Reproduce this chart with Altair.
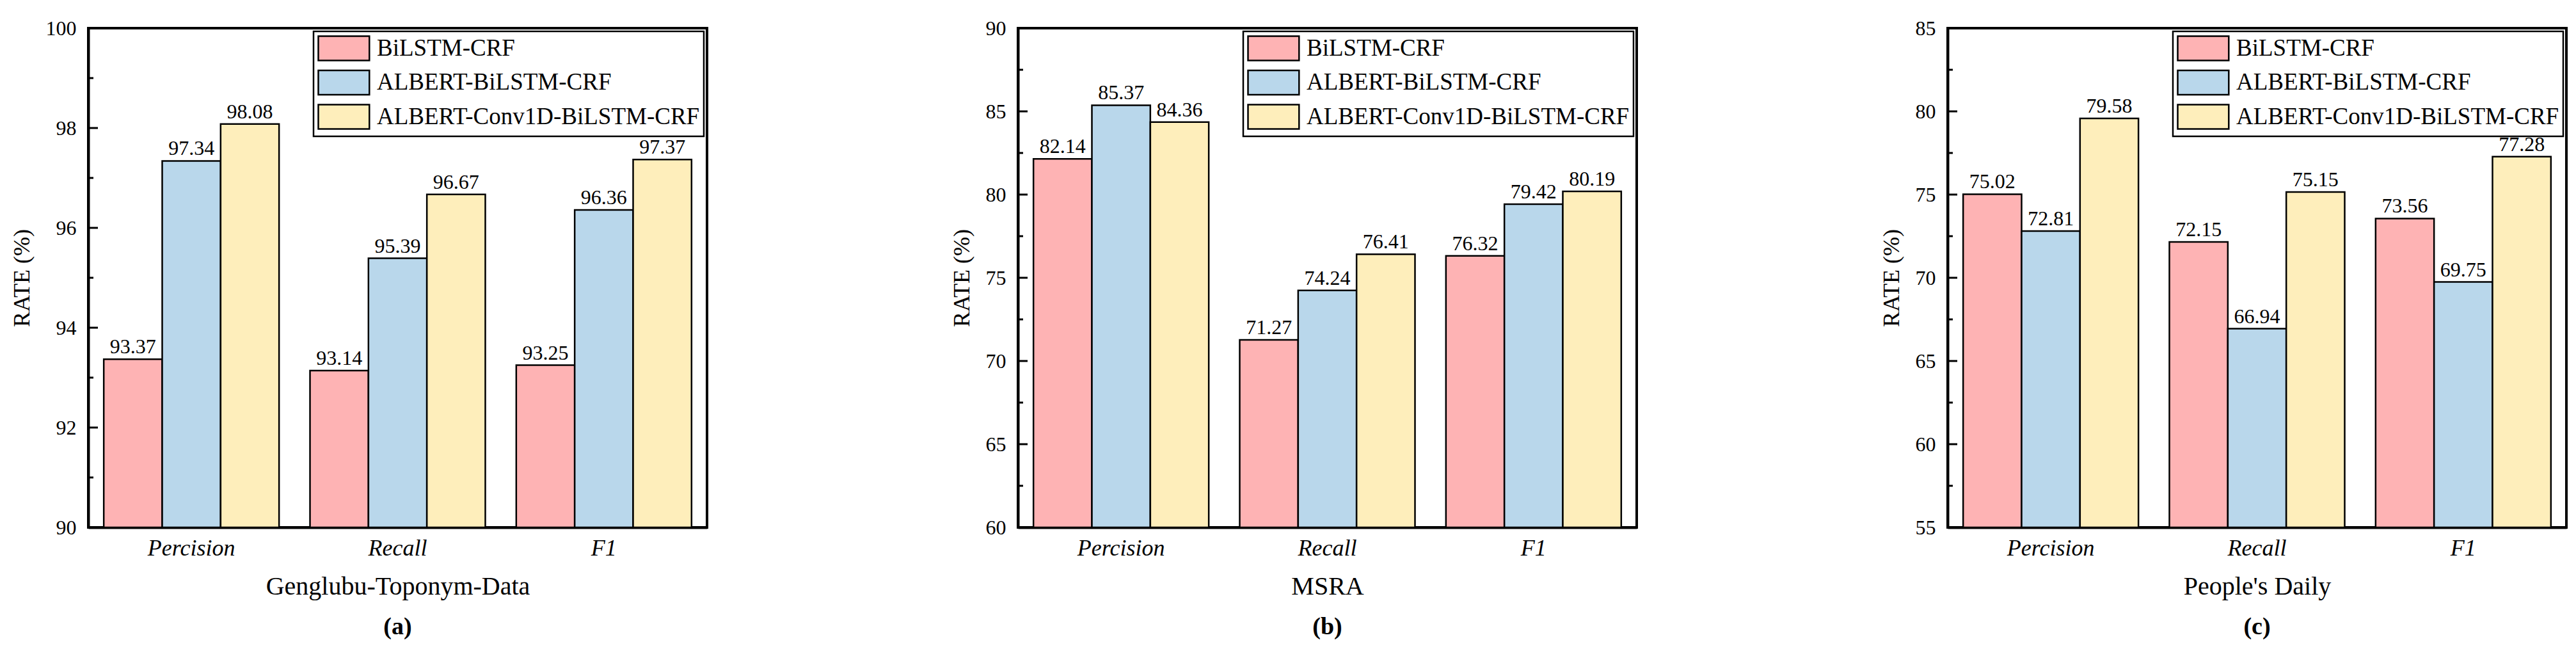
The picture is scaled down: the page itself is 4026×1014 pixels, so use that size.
import altair as alt
import pandas as pd

FONT = "Liberation Serif"

categories = ["Percision", "Recall", "F1"]
models = ["BiLSTM-CRF", "ALBERT-BiLSTM-CRF", "ALBERT-Conv1D-BiLSTM-CRF"]
colors = ["#FEB3B4", "#B9D7EB", "#FEEEBB"]

# Panel (a) Genglubu-Toponym-Data
a_bilstm = [93.37, 93.14, 93.25]
a_albert = [97.34, 95.39, 96.36]
a_conv = [98.08, 96.67, 97.37]
a_major = [90, 92, 94, 96, 98, 100]
a_minor = [91, 93, 95, 97, 99]

# Panel (b) MSRA
b_bilstm = [82.14, 71.27, 76.32]
b_albert = [85.37, 74.24, 79.42]
b_conv = [84.36, 76.41, 80.19]
b_major = [60, 65, 70, 75, 80, 85, 90]
b_minor = [62.5, 67.5, 72.5, 77.5, 82.5, 87.5]

# Panel (c) People's Daily
c_bilstm = [75.02, 72.15, 73.56]
c_albert = [72.81, 66.94, 69.75]
c_conv = [79.58, 75.15, 77.28]
c_major = [55, 60, 65, 70, 75, 80, 85]
c_minor = [57.5, 62.5, 67.5, 72.5, 77.5, 82.5]


def make_df(series):
    rows = []
    for m, vals in zip(models, series):
        for c, v in zip(categories, vals):
            rows.append({"metric": c, "model": m, "value": v})
    return pd.DataFrame(rows)


def panel(series, major, minor, xtitle, label):
    df = make_df(series)
    lo, hi = major[0], major[-1]
    yscale = alt.Scale(domain=[lo, hi], nice=False, zero=False)
    yaxis = alt.Axis(
        title="RATE (%)",
        values=major,
        ticks=False,
        tickSize=0,
        grid=False,
        labelPadding=19,
        labelFont=FONT,
        labelFontSize=32,
        labelColor="black",
        titleFont=FONT,
        titleFontSize=36,
        titleFontWeight="normal",
        titleColor="black",
        titlePadding=18,
        domainColor="black",
        domainWidth=4,
    )
    xenc = alt.X(
        "metric:N",
        sort=categories,
        scale=alt.Scale(paddingInner=0.15, paddingOuter=0.075),
        axis=alt.Axis(
            title=xtitle,
            labelAngle=0,
            ticks=False,
            tickSize=0,
            labelPadding=15,
            labelFont=FONT,
            labelFontSize=36,
            labelFontStyle="italic",
            labelColor="black",
            titleFont=FONT,
            titleFontSize=40,
            titleFontWeight="normal",
            titleColor="black",
            titlePadding=22,
            domainColor="black",
            domainWidth=4,
        ),
    )
    xoff = alt.XOffset("model:N", sort=models, scale=alt.Scale(paddingInner=0, paddingOuter=0))
    bars = alt.Chart(df).mark_bar(stroke="black", strokeWidth=2.5).encode(
        x=xenc,
        xOffset=xoff,
        y=alt.Y("value:Q", scale=yscale, axis=yaxis),
        y2=alt.datum(lo),
        color=alt.Color(
            "model:N",
            sort=models,
            scale=alt.Scale(domain=models, range=colors),
            legend=alt.Legend(
                title=None,
                orient="top-right",
                offset=5,
                labelFont=FONT,
                labelFontSize=37,
                labelColor="black",
                labelOffset=52,
                symbolType="M-1,-1H3.2V1H-1Z",
                symbolSize=1444,
                symbolStrokeColor="black",
                symbolStrokeWidth=2.5,
                symbolOpacity=1,
                rowPadding=4.5,
                padding=6,
                strokeColor="black",
                fillColor="white",
                labelLimit=800,
            ),
        ),
    )
    text = alt.Chart(df).mark_text(
        baseline="alphabetic", dy=-9, font=FONT, fontSize=32, color="black"
    ).encode(
        x=alt.X("metric:N", sort=categories),
        xOffset=alt.XOffset("model:N", sort=models),
        y=alt.Y("value:Q", scale=yscale, axis=yaxis),
        text=alt.Text("value:Q", format=".2f"),
    )
    major_ticks = alt.Chart(pd.DataFrame({"value": major})).mark_rule(
        color="black", strokeWidth=3
    ).encode(
        y=alt.Y("value:Q", scale=yscale, axis=yaxis),
        x=alt.value(0),
        x2=alt.value(15),
    )
    minor_ticks = alt.Chart(pd.DataFrame({"value": minor})).mark_rule(
        color="black", strokeWidth=3
    ).encode(
        y=alt.Y("value:Q", scale=yscale, axis=yaxis),
        x=alt.value(0),
        x2=alt.value(8),
    )
    return alt.layer(bars, text, major_ticks, minor_ticks).properties(
        width=967,
        height=780,
        title=alt.TitleParams(
            label,
            orient="bottom",
            anchor="middle",
            frame="group",
            font=FONT,
            fontSize=38,
            fontWeight="bold",
            color="black",
            offset=25,
        ),
    )


pa = panel([a_bilstm, a_albert, a_conv], a_major, a_minor, "Genglubu-Toponym-Data", "(a)")
pb = panel([b_bilstm, b_albert, b_conv], b_major, b_minor, "MSRA", "(b)")
pc = panel([c_bilstm, c_albert, c_conv], c_major, c_minor, "People's Daily", "(c)")

chart = (
    alt.hconcat(pa, pb, pc, spacing=376)
    .resolve_scale(y="independent", x="independent", xOffset="independent")
    .resolve_legend(color="independent")
    .properties(
        padding={"left": 6, "top": 18, "right": 2, "bottom": 2},
        background="white",
    )
    .configure_view(stroke="black", strokeWidth=4)
    .configure_legend(strokeWidth=2.5, labelFont=FONT)
    .configure_axis(labelFont=FONT, titleFont=FONT)
    .configure_text(font=FONT)
    .configure_title(font=FONT)
)

chart.save("out.html", embed_options={"renderer": "svg", "actions": False})
